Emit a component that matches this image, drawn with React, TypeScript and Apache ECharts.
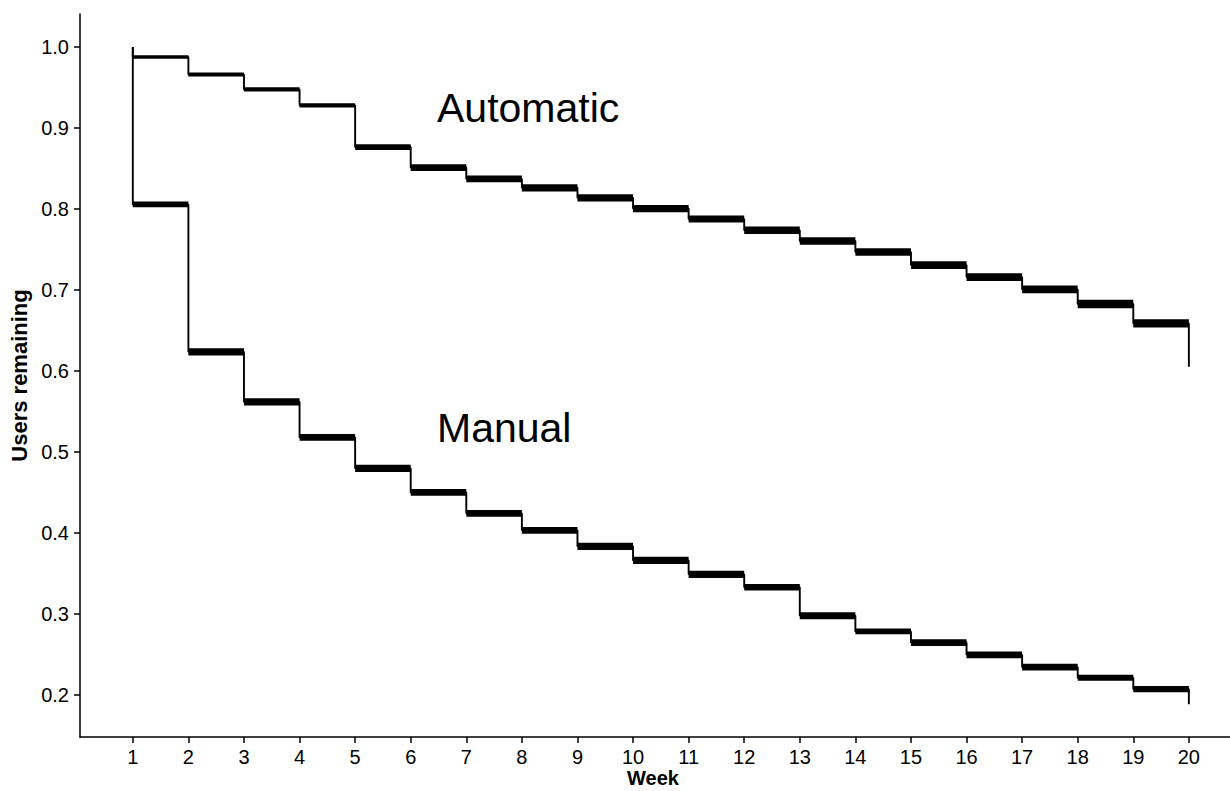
import React, { useEffect, useRef } from "react";
import * as echarts from "echarts";

// Weeks (x positions of the steps)
const weeks = [1, 2, 3, 4, 5, 6, 7, 8, 9, 10, 11, 12, 13, 14, 15, 16, 17, 18, 19, 20];
const yTickValues = [0.2, 0.3, 0.4, 0.5, 0.6, 0.7, 0.8, 0.9, 1.0];

// Automatic: survival estimate for each interval [week i, week i+1] and its band
const automaticStart = 1.0;
const automaticEnd = 0.605;
const automaticLevel = [0.9875, 0.9658, 0.9475, 0.9278, 0.8764, 0.851, 0.837, 0.826, 0.8136, 0.8004, 0.7874, 0.7736, 0.7604, 0.7468, 0.7306, 0.7158, 0.7006, 0.6826, 0.6587];
const automaticUpper = [0.9898, 0.9683, 0.9502, 0.9305, 0.8799, 0.8552, 0.8411, 0.8305, 0.8181, 0.8049, 0.7917, 0.7781, 0.7651, 0.7515, 0.7352, 0.7206, 0.7053, 0.6877, 0.6638];
const automaticLower = [0.9852, 0.9633, 0.9448, 0.9251, 0.8728, 0.8469, 0.833, 0.8214, 0.809, 0.7959, 0.7831, 0.7691, 0.7556, 0.742, 0.7259, 0.7111, 0.6959, 0.6774, 0.6535];

// Manual
const manualStart = 1.0;
const manualEnd = 0.1885;
const manualLevel = [0.8055, 0.6235, 0.5617, 0.5179, 0.4796, 0.45, 0.4241, 0.4031, 0.3833, 0.366, 0.3488, 0.3329, 0.2978, 0.2784, 0.2646, 0.2494, 0.2342, 0.221, 0.2072];
const manualUpper = [0.8091, 0.628, 0.5663, 0.5222, 0.484, 0.4543, 0.4284, 0.4074, 0.3877, 0.3704, 0.3531, 0.337, 0.3021, 0.2819, 0.2688, 0.2535, 0.2383, 0.2247, 0.2111];
const manualLower = [0.8019, 0.6189, 0.5572, 0.5136, 0.4753, 0.4457, 0.4198, 0.3988, 0.379, 0.3617, 0.3444, 0.3288, 0.2935, 0.2749, 0.2605, 0.2453, 0.23, 0.2173, 0.2033];

const FONT = "'Liberation Sans', Arial, Helvetica, sans-serif";

function stepPoints(start: number, level: number[], end: number) {
  const pts: number[][] = [[weeks[0], start]];
  level.forEach((v, i) => pts.push([weeks[i + 1], v]));
  pts.push([weeks[weeks.length - 1], end]);
  return pts;
}

function bandData(lower: number[], upper: number[]) {
  return lower.map((lo, i) => [weeks[i], weeks[i + 1], lo, upper[i]]);
}

const renderBand = (_params: any, api: any) => {
  const p0 = api.coord([api.value(0), api.value(3)]);
  const p1 = api.coord([api.value(1), api.value(2)]);
  return {
    type: "rect",
    shape: { x: p0[0], y: p0[1], width: p1[0] - p0[0], height: p1[1] - p0[1] },
    style: { fill: "#000" },
  };
};

export default function App() {
  const ref = useRef<HTMLDivElement>(null);
  useEffect(() => {
    if (!ref.current) return;
    const chart = echarts.init(ref.current, null, { renderer: "svg" });
    chart.setOption({
      animation: false,
      backgroundColor: "#fff",
      textStyle: { fontFamily: FONT },
      grid: { left: 80, top: 14, right: 0, bottom: 54, outerBoundsMode: "none", containLabel: false },
      xAxis: {
        type: "value",
        min: 0.05,
        max: 20.74,
        axisLine: { show: true, onZero: false, lineStyle: { color: "#000", width: 1.5 } },
        axisTick: { show: true, length: 6, customValues: weeks, lineStyle: { color: "#000", width: 1.5 } },
        axisLabel: { customValues: weeks, fontSize: 20, color: "#000", margin: 10, fontFamily: FONT },
        splitLine: { show: false },
      },
      yAxis: {
        type: "value",
        min: 0.148,
        max: 1.0406,
        name: "Users remaining",
        nameLocation: "middle",
        nameGap: 46,
        nameTextStyle: { fontSize: 22, fontWeight: "bold", color: "#000", fontFamily: FONT },
        axisLine: { show: true, onZero: false, lineStyle: { color: "#000", width: 1.5 } },
        axisTick: { show: true, length: 6, customValues: yTickValues, lineStyle: { color: "#000", width: 1.5 } },
        axisLabel: {
          customValues: yTickValues,
          fontSize: 20,
          color: "#000",
          margin: 11,
          fontFamily: FONT,
          formatter: (v: number) => v.toFixed(1),
        },
        splitLine: { show: false },
      },
      series: [
        {
          name: "Automatic",
          type: "line",
          step: "start",
          data: stepPoints(automaticStart, automaticLevel, automaticEnd),
          showSymbol: false,
          symbol: "none",
          lineStyle: { color: "#000", width: 1.9 },
          silent: true,
        },
        {
          name: "Manual",
          type: "line",
          step: "start",
          data: stepPoints(manualStart, manualLevel, manualEnd),
          showSymbol: false,
          symbol: "none",
          lineStyle: { color: "#000", width: 1.9 },
          silent: true,
        },
        {
          name: "Automatic band",
          type: "custom",
          renderItem: renderBand,
          encode: { x: [0, 1], y: [2, 3] },
          data: bandData(automaticLower, automaticUpper),
          silent: true,
        },
        {
          name: "Manual band",
          type: "custom",
          renderItem: renderBand,
          encode: { x: [0, 1], y: [2, 3] },
          data: bandData(manualLower, manualUpper),
          silent: true,
        },
      ],
      graphic: [
        {
          type: "text",
          x: 437,
          y: 108,
          style: { text: "Automatic", fontSize: 41, fill: "#000", fontFamily: FONT, verticalAlign: "middle", align: "left" },
        },
        {
          type: "text",
          x: 437,
          y: 428,
          style: { text: "Manual", fontSize: 41, fill: "#000", fontFamily: FONT, verticalAlign: "middle", align: "left" },
        },
        {
          type: "text",
          x: 653,
          y: 778,
          style: { text: "Week", fontSize: 20, fontWeight: "bold", fill: "#000", fontFamily: FONT, verticalAlign: "middle", align: "center" },
        },
      ],
    });
    return () => chart.dispose();
  }, []);
  return (
    <div
      ref={ref}
      style={{ position: "absolute", left: 0, top: 0, width: 1230, height: 791, background: "#fff" }}
    />
  );
}
